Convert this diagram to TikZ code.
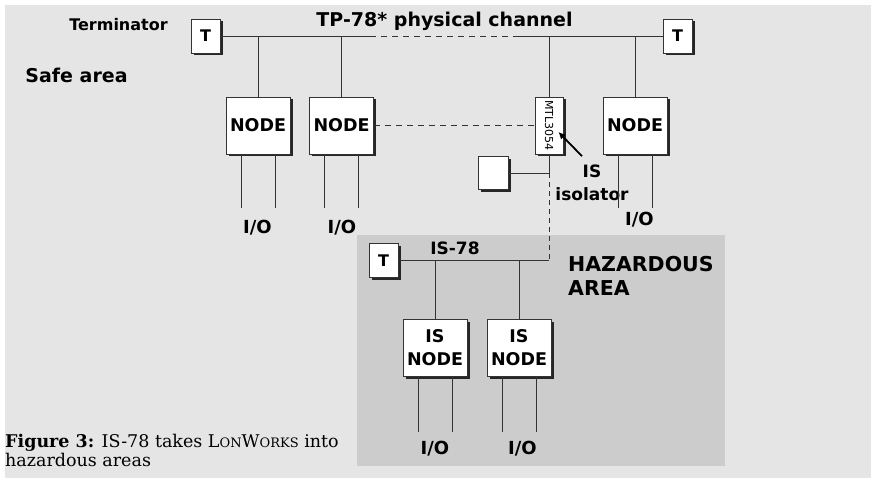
\documentclass[tikz,border=0pt]{standalone}
\usepackage{fontspec}
\setmainfont{DejaVu Serif}
\setsansfont{DejaVu Sans}
\usetikzlibrary{arrows.meta, positioning, calc, shadows}

\begin{document}
\begin{tikzpicture}[
    x=1pt, y=-1pt,
    wire/.style={draw=black!80, line width=0.9pt},
    dashwire/.style={wire, dash pattern=on 6pt off 5pt},
    box/.style={rectangle, draw=black!80, fill=white, line width=0.9pt, inner sep=0pt, drop shadow={shadow xshift=2.5pt, shadow yshift=-2.5pt, fill=black!85, opacity=1}},
    termbox/.style={box, minimum width=29pt, minimum height=34pt, font=\sffamily\bfseries\fontsize{16}{18}\selectfont},
    nodebox/.style={box, minimum width=64pt, minimum height=57pt, align=center, font=\sffamily\bfseries\fontsize{17.5}{23}\selectfont},
    txt/.style={inner sep=0pt, anchor=base, font=\sffamily\bfseries\fontsize{18}{24}\selectfont},
    pointer/.style={-{Latex[length=7pt,width=7pt]}, line width=1.8pt, draw=black}
]

\useasboundingbox (0,0) rectangle (871,478);
\fill[black!10] (5,5) rectangle (871,478);
\fill[black!20] (357,235) rectangle (725,466);

\node[termbox] (tl) at (205.5,36) {T};
\node[termbox] (tr) at (677.5,36) {T};
\node[termbox] (tis) at (383.5,260.5) {T};
\node[nodebox] (n1) at (258,125.5) {NODE};
\node[nodebox] (n2) at (341.5,125.5) {NODE};
\node[nodebox] (n3) at (635,125.5) {NODE};
\node[box, minimum width=28pt, minimum height=57pt] (mtl) at (549,125.5) {\rotatebox{-90}{\sffamily\fontsize{11}{11}\selectfont MTL3054}};
\node[box, minimum width=30pt, minimum height=33pt] (aux) at (493,173) {};
\node[nodebox] (is1) at (435,348) {IS\\NODE};
\node[nodebox] (is2) at (519,348) {IS\\NODE};

\node[txt, font=\sffamily\bfseries\fontsize{16}{20}\selectfont] (term) at (118.5,31) {Terminator};
\node[txt, font=\sffamily\bfseries\fontsize{19}{24}\selectfont] (tp) at (444.5,27) {TP-78* physical channel};
\node[txt, font=\sffamily\bfseries\fontsize{19}{24}\selectfont] (safe) at (76.5,83) {Safe area};
\node[txt, font=\sffamily\bfseries\fontsize{17}{20}\selectfont] (isbus) at (455,255) {IS-78};
\node[txt, anchor=base west, align=left, font=\sffamily\bfseries\fontsize{20.5}{24}\selectfont] (haz) at (568,296) {HAZARDOUS\\AREA};
\node[txt, align=center, font=\sffamily\bfseries\fontsize{17}{23}\selectfont] (isol) at (592,201) {IS\\isolator};
\node[txt] (io1) at (257.5,234) {I/O};
\node[txt] (io2) at (342,234) {I/O};
\node[txt] (io3) at (639.5,226) {I/O};
\node[txt] (io4) at (435,454) {I/O};
\node[txt] (io5) at (522.5,454) {I/O};

\node[anchor=base west, align=left, inner sep=0pt, font=\fontsize{17.5}{19}\selectfont] (caption) at (5,467) {\textbf{Figure 3:} IS-78 takes L{\fontsize{13}{13}\selectfont ON}W{\fontsize{13}{13}\selectfont ORKS} into\\hazardous areas};

\coordinate (busA) at (370,36);
\coordinate (busB) at (517,36);
\draw[wire] (tl.east) -- (busA);
\draw[dashwire] (busA) -- (busB);
\draw[wire] (busB) -- (tr.west);
\foreach \n in {n1,n2,mtl,n3}
    \draw[wire] (\n.north) -- (\n.north |- tl.east);
\foreach \n in {n1,n2,n3}{
    \draw[wire] ($(\n.south)+(-17,0)$) -- ++(0,54);
    \draw[wire] ($(\n.south)+(17,0)$) -- ++(0,54);
}
\draw[dashwire] (n2.east) -- (mtl.west);

\coordinate (junc) at (mtl.south |- aux.east);
\draw[wire] (mtl.south) -- (junc);
\draw[wire] (aux.east) -- (junc);
\draw[wire, dash pattern=on 5pt off 4pt] (junc) -- (junc |- tis.east);
\draw[wire] (junc |- tis.east) -- (tis.east);
\foreach \n in {is1,is2}{
    \draw[wire] (\n.north) -- (\n.north |- tis.east);
    \draw[wire] ($(\n.south)+(-17,0)$) -- ++(0,55);
    \draw[wire] ($(\n.south)+(17,0)$) -- ++(0,55);
}

\draw[pointer] ([xshift=-10pt, yshift=9pt]isol.north) -- ([xshift=-5pt, yshift=-6.5pt]mtl.east);

\end{tikzpicture}
\end{document}
